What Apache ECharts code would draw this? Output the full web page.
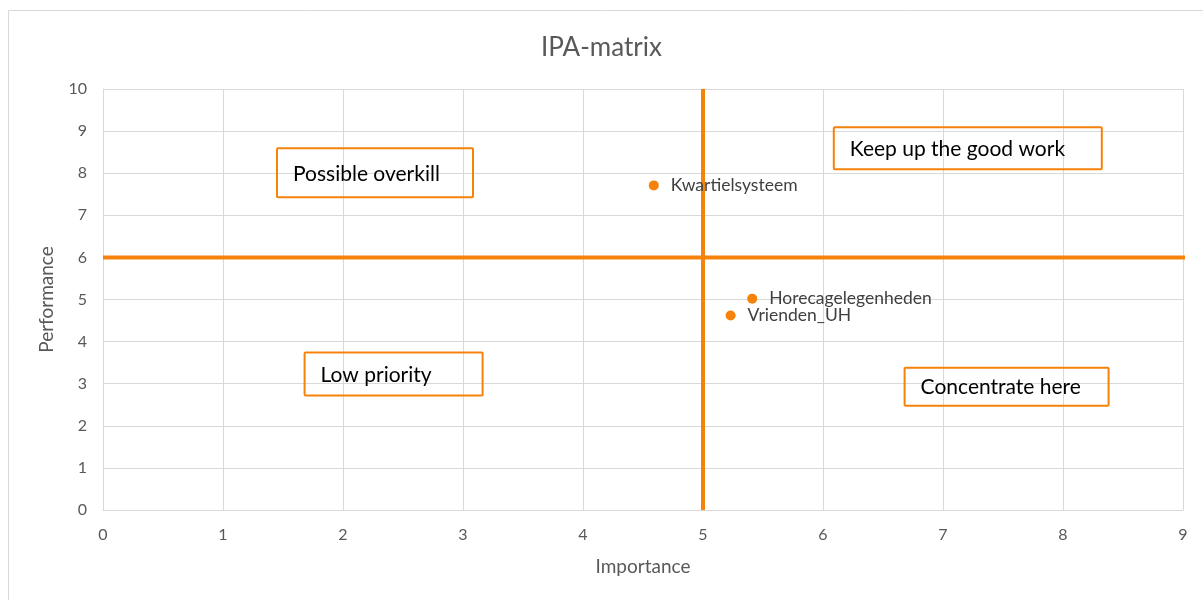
<!DOCTYPE html>
<html>
<head>
<meta charset="utf-8">
<script src="https://cdn.jsdelivr.net/npm/echarts@6/dist/echarts.min.js"></script>
<style>
  html, body { margin: 0; padding: 0; background: #fff; }
  #chart { width: 1203px; height: 600px; }
</style>
</head>
<body>
<div id="chart"></div>
<script>
// data
const pointNames = ['Kwartielsysteem', 'Horecagelegenheden', 'Vrienden_UH'];
const importance = [4.59, 5.41, 5.23];
const performance = [7.71, 5.02, 4.62];

// quadrant split lines
const splitX = 5;
const splitY = 6;

// quadrant text boxes: label, top-left corner in data units, box size in px
const boxTexts = ['Possible overkill', 'Keep up the good work', 'Low priority', 'Concentrate here'];
const boxX = [1.45, 6.09, 1.68, 6.68];
const boxY = [8.59, 9.09, 3.74, 3.38];
const boxW = [196, 268, 178, 204];
const boxH = [49, 42, 43, 38];

const orange = '#f5820a';
const grey = '#595959';

const myChart = echarts.init(document.getElementById('chart'));

let points = pointNames.map((n, i) => ({ name: n, value: [importance[i], performance[i]] }));

let boxes = boxTexts.map((t, i) => ({
  name: t,
  value: [boxX[i], boxY[i]],
  label: {
    width: boxW[i] - 32,
    lineHeight: boxH[i] - 4,
    height: boxH[i] - 4
  }
}));

myChart.setOption({
  animation: false,
  textStyle: { fontFamily: 'Lato, "Open Sans", sans-serif' },
  title: {
    text: 'IPA-matrix',
    left: 'center',
    top: 30,
    textStyle: { color: grey, fontSize: 26, fontWeight: 'normal' }
  },
  graphic: [{
    type: 'rect',
    shape: { x: 8.5, y: 10.5, width: 1300, height: 700 },
    style: { fill: 'none', stroke: '#d9d9d9', lineWidth: 1 },
    silent: true
  }],
  grid: { left: 103, top: 89, width: 1080, height: 421 },
  xAxis: {
    type: 'value',
    min: 0, max: 9, interval: 1,
    name: 'Importance',
    nameLocation: 'middle',
    nameGap: 47,
    nameTextStyle: { color: grey, fontSize: 19 },
    axisLine: { lineStyle: { color: '#d9d9d9' } },
    axisTick: { show: false },
    axisLabel: { color: grey, fontSize: 16, margin: 17 },
    splitLine: { lineStyle: { color: '#d9d9d9', width: 1 } }
  },
  yAxis: {
    type: 'value',
    min: 0, max: 10, interval: 1,
    name: 'Performance',
    nameLocation: 'middle',
    nameRotate: 90,
    nameGap: 47,
    nameTextStyle: { color: grey, fontSize: 19 },
    axisLine: { show: true, lineStyle: { color: '#d9d9d9' } },
    axisTick: { show: false },
    axisLabel: { color: grey, fontSize: 16, margin: 16 },
    splitLine: { lineStyle: { color: '#d9d9d9', width: 1 } }
  },
  series: [
    {
      // horizontal split, runs past the plot to the right edge
      type: 'line',
      data: [[0, splitY], [10, splitY]],
      clip: false,
      symbol: 'none',
      silent: true,
      lineStyle: { color: orange, width: 4 }
    },
    {
      type: 'line',
      data: [[splitX, 0], [splitX, 10]],
      symbol: 'none',
      silent: true,
      lineStyle: { color: orange, width: 4 }
    },
    {
      type: 'scatter',
      data: points,
      symbolSize: 10,
      itemStyle: { color: orange, opacity: 1 },
      label: {
        show: true,
        position: 'right',
        distance: 12,
        formatter: '{b}',
        color: '#404040',
        fontSize: 17.5
      },
      z: 5
    },
    {
      // quadrant annotation boxes
      type: 'scatter',
      data: boxes,
      symbolSize: 0,
      silent: true,
      clip: false,
      itemStyle: { opacity: 1 },
      label: {
        show: true,
        position: [0, 0],
        align: 'left',
        verticalAlign: 'top',
        formatter: '{b}',
        color: '#000',
        fontSize: 21,
        padding: [3, 16, 1, 16],
        borderColor: orange,
        borderWidth: 2,
        borderRadius: 1
      },
      emphasis: { disabled: true },
      z: 6
    }
  ]
});
</script>
</body>
</html>
